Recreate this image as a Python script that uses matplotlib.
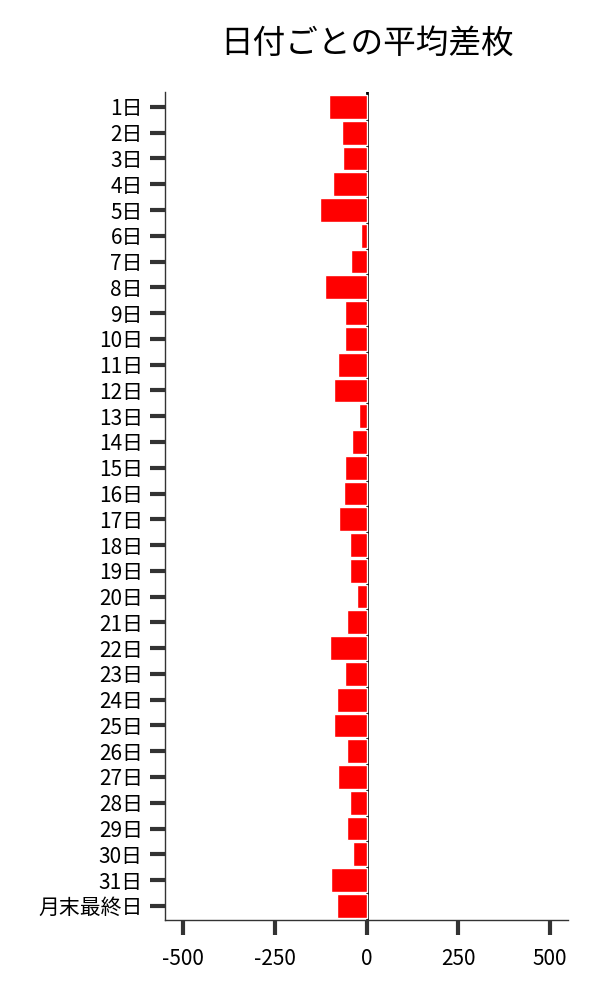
import matplotlib
matplotlib.use('Agg')
import matplotlib.pyplot as plt

plt.rcParams['font.family'] = ['Noto Sans CJK JP', 'DejaVu Sans']

# Average difference per day of month
days = [str(i) + '日' for i in range(1, 32)] + ['月末最終日']
avg_diff = [-103, -68, -65, -92, -127, -16, -43, -114, -60, -60,
            -79, -89, -22, -41, -60, -62, -76, -46, -46, -27,
            -54, -100, -60, -81, -89, -54, -79, -46, -54, -38,
            -98, -81]
xticks = [-500, -250, 0, 250, 500]

fig = plt.figure(figsize=(6, 10), dpi=100)
ax = fig.add_axes([0.275, 0.08, 0.672, 0.828])

ax.axvline(0, color='black', linewidth=2, zorder=1)
ax.barh(range(len(days)), avg_diff, height=0.92, color='red',
        edgecolor='white', linewidth=1, zorder=2)

ax.set_yticks(range(len(days)))
ax.set_yticklabels(days, fontsize=15)
ax.set_ylim(len(days) - 0.45, -0.58)
ax.set_xlim(-550, 550)
ax.set_xticks(xticks)
ax.set_xticklabels([str(v) for v in xticks], fontsize=15)

for side in ['top', 'right']:
    ax.spines[side].set_visible(False)
for side in ['left', 'bottom']:
    ax.spines[side].set_color('#333333')
    ax.spines[side].set_linewidth(1)

ax.tick_params(axis='both', length=11, width=3, color='#333333')
ax.tick_params(axis='x', pad=9)
ax.tick_params(axis='y', pad=5)

ax.set_title('日付ごとの平均差枚', fontsize=23.5, pad=28)

plt.savefig('out.png', dpi=100)
